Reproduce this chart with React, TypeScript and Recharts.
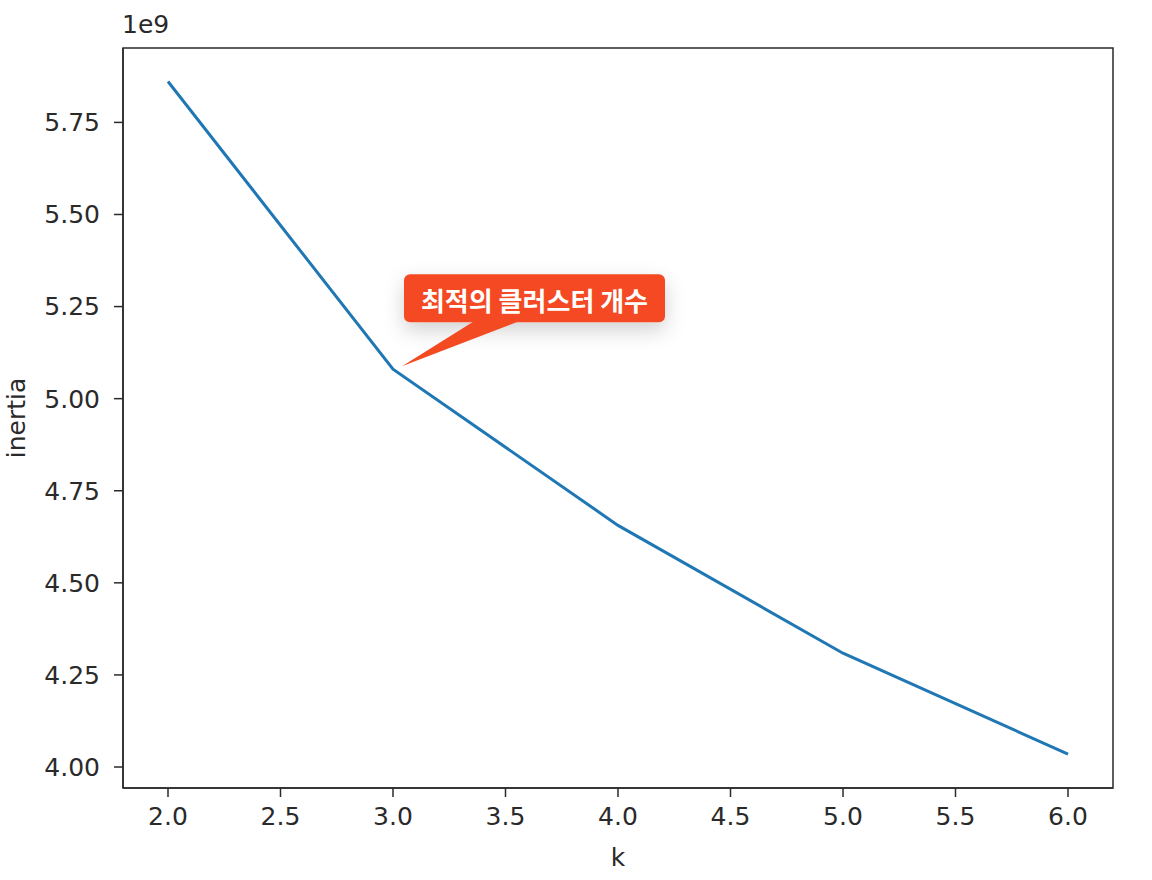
import React from 'react';
import { LineChart, Line, XAxis, YAxis, ReferenceDot, ReferenceArea } from 'recharts';

const kValues = [2, 3, 4, 5, 6];
const inertiaValues = [5.861, 5.08, 4.656, 4.309, 4.035]; // x 1e9
const xTicks = [2.0, 2.5, 3.0, 3.5, 4.0, 4.5, 5.0, 5.5, 6.0];
const yTicks = [4.0, 4.25, 4.5, 4.75, 5.0, 5.25, 5.5, 5.75];
const calloutText = '최적의 클러스터 개수';
const calloutK = 3;

const data = kValues.map((k, i) => ({ k, inertia: inertiaValues[i] }));

const X_DOMAIN = [1.8, 6.2];
const Y_DOMAIN = [3.943, 5.952];
const FONT = '"DejaVu Sans", sans-serif';
const INK = '#2a2a2a';

// orange speech bubble pointing at the elbow point
const Callout = (props: any) => {
  const { cx, cy } = props;
  if (cx == null || cy == null) return null;
  const rx = cx + 11;
  const ry = cy - 95;
  const rw = 261;
  const rh = 48;
  return (
    <g>
      <defs>
        <filter id="calloutShadow" x="-30%" y="-60%" width="160%" height="260%">
          <feDropShadow dx="0" dy="8" stdDeviation="10" floodColor="#000" floodOpacity="0.18" />
        </filter>
      </defs>
      <rect x={rx} y={ry} width={rw} height={rh} rx={6} fill="#f44a22" filter="url(#calloutShadow)" />
      <polygon points={`${cx + 81},${ry + rh - 1} ${cx + 126},${ry + rh - 1} ${cx + 9},${cy - 3}`} fill="#f44a22" />
      <text
        x={rx + rw / 2}
        y={ry + rh / 2 + 1}
        textAnchor="middle"
        dominantBaseline="central"
        fill="#fff"
        fontWeight={700}
        fontSize={26}
        fontFamily='"Noto Sans CJK KR", sans-serif'
      >
        {calloutText}
      </text>
    </g>
  );
};

export default function App() {
  return (
    <div style={{ position: 'relative', width: 1152, height: 880, background: '#fff' }}>
      <style>{`body{margin:0}`}</style>
      <LineChart width={1152} height={880} data={data} margin={{ top: 48, right: 39, bottom: 0, left: 0 }}>
        <XAxis
          dataKey="k"
          type="number"
          domain={X_DOMAIN}
          ticks={xTicks}
          tickFormatter={(v: number) => v.toFixed(1)}
          allowDataOverflow
          height={92}
          stroke={INK}
          strokeWidth={1.5}
          tickSize={9}
          tickMargin={10}
          tick={{ fill: INK, fontSize: 25, fontFamily: FONT }}
          tickLine={{ stroke: INK, strokeWidth: 1.5 }}
        />
        <YAxis
          type="number"
          domain={Y_DOMAIN}
          ticks={yTicks}
          tickFormatter={(v: number) => v.toFixed(2)}
          allowDataOverflow
          width={123}
          stroke={INK}
          strokeWidth={1.5}
          tickSize={9}
          tickMargin={14}
          tick={{ fill: INK, fontSize: 25, fontFamily: FONT }}
          tickLine={{ stroke: INK, strokeWidth: 1.5 }}
        />
        {/* full frame like matplotlib spines */}
        <ReferenceArea
          x1={X_DOMAIN[0]}
          x2={X_DOMAIN[1]}
          y1={Y_DOMAIN[0]}
          y2={Y_DOMAIN[1]}
          fill="none"
          fillOpacity={0}
          stroke={INK}
          strokeWidth={1.5}
          strokeOpacity={1}
          ifOverflow="visible"
        />
        <Line
          type="linear"
          dataKey="inertia"
          stroke="#1f77b4"
          strokeWidth={3}
          dot={false}
          isAnimationActive={false}
        />
        <ReferenceDot x={calloutK} y={inertiaValues[1]} shape={Callout} />
      </LineChart>
      <div style={{ position: 'absolute', left: 122, top: 10, fontFamily: FONT, fontSize: 25, color: INK }}>1e9</div>
      <div style={{ position: 'absolute', left: 618, top: 843, transform: 'translateX(-50%)', fontFamily: FONT, fontSize: 25, color: INK }}>k</div>
      <div
        style={{
          position: 'absolute',
          left: 16,
          top: 418,
          transform: 'translate(-50%, -50%) rotate(-90deg)',
          fontFamily: FONT,
          fontSize: 25,
          color: INK,
          whiteSpace: 'nowrap',
        }}
      >
        inertia
      </div>
    </div>
  );
}
